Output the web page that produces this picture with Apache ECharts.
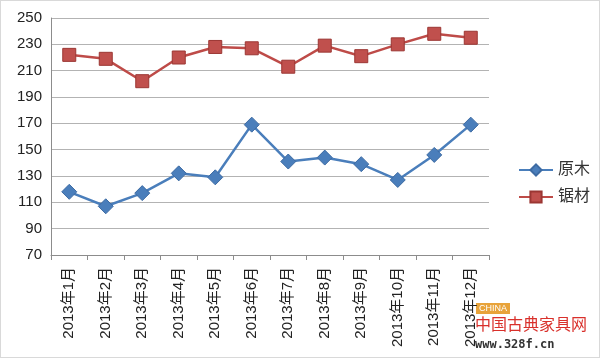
<!DOCTYPE html>
<html><head><meta charset="utf-8">
<script src="https://cdn.jsdelivr.net/npm/echarts@6/dist/echarts.min.js"></script>
<style>html,body{margin:0;padding:0;background:#fff}#c{width:600px;height:358px;box-sizing:border-box;border:1px solid #d9d9d9}</style>
</head><body><div id="c"></div>
<script>
const categories = ['2013年1月','2013年2月','2013年3月','2013年4月','2013年5月','2013年6月','2013年7月','2013年8月','2013年9月','2013年10月','2013年11月','2013年12月'];
const logs = [118,107,117,132,129,169,141,144,139,127,146,169];
const lumber = [222,219,202,220,228,227,213,229,221,230,238,235];
const yTicks = {min:70, max:250, interval:20};
const seriesNames = ['原木','锯材'];

const chart = echarts.init(document.getElementById('c'));
const font = '"Liberation Sans", "Noto Sans CJK SC", sans-serif';
chart.setOption({
  animation:false,
  backgroundColor:'#fff',
  grid:{left:50, right:110, top:17, bottom:102},
  legend:{
    orient:'vertical', left:512, top:156, itemGap:11,
    itemWidth:34, itemHeight:14,
    textStyle:{fontSize:16, color:'#333', fontFamily:font},
    data:seriesNames
  },
  xAxis:{
    type:'category', data:categories, boundaryGap:true,
    axisLine:{lineStyle:{color:'#8c8c8c'}},
    axisTick:{show:true, length:5, lineStyle:{color:'#8c8c8c'}},
    axisLabel:{rotate:90, interval:0, fontSize:15, color:'#222', fontFamily:font, margin:12}
  },
  yAxis:{
    type:'value', min:yTicks.min, max:yTicks.max, interval:yTicks.interval,
    axisLine:{show:true, lineStyle:{color:'#8c8c8c'}},
    axisTick:{show:false},
    axisLabel:{fontSize:15, color:'#222', fontFamily:font, margin:9},
    splitLine:{lineStyle:{color:'#b3b3b3'}}
  },
  series:[
    {name:seriesNames[0], type:'line', data:logs, symbol:'diamond', symbolSize:15,
     lineStyle:{color:'#4a7ebb', width:2.5}, itemStyle:{color:'#4a7ebb', borderColor:'#3d6ba3', borderWidth:1}},
    {name:seriesNames[1], type:'line', data:lumber, symbol:'rect', symbolSize:13,
     lineStyle:{color:'#be4b48', width:2.5}, itemStyle:{color:'#c0504d', borderColor:'#9b3633', borderWidth:1}}
  ],
  graphic:[
    {type:'text', left:475, top:302, style:{text:'CHINA', fontSize:9, fill:'#fff', backgroundColor:'#e8a33a', padding:[1,3], fontFamily:font}},
    {type:'text', left:474, top:315, style:{text:'中国古典家具网', fontSize:16, fill:'#d9302b', fontFamily:'"Noto Sans CJK SC"'}},
    {type:'text', left:474, top:338, style:{text:'www.328f.cn', fontSize:12, fill:'#333', fontFamily:'"DejaVu Sans Mono", monospace', fontWeight:'bold'}}
  ]
});
</script></body></html>
